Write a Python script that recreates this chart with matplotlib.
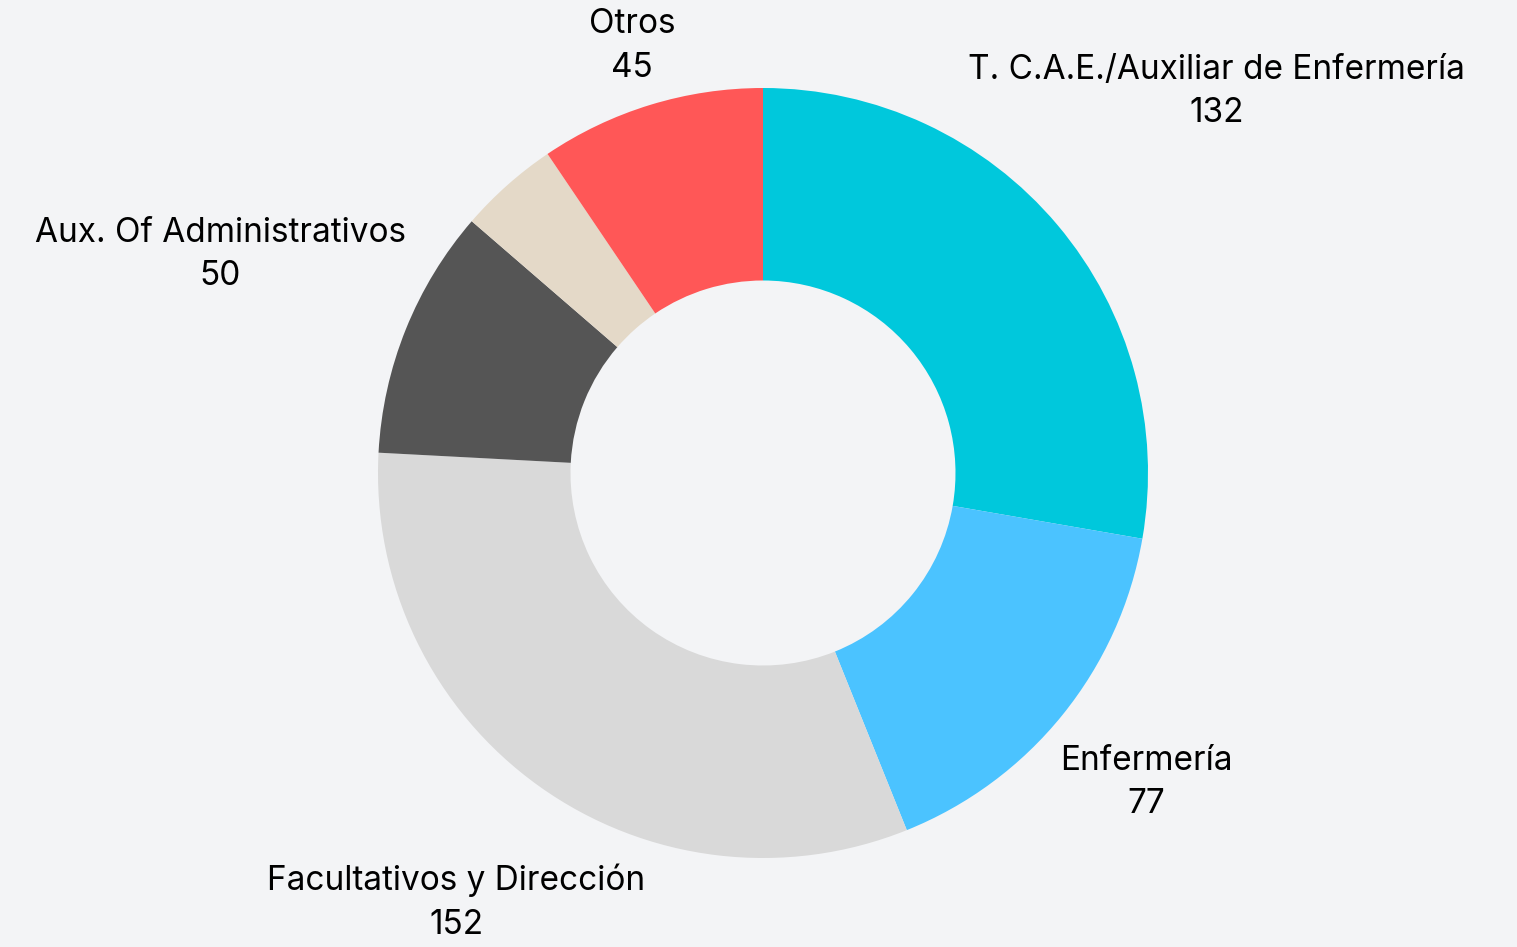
import numpy as np
from matplotlib import pyplot as plt

plt.rcParams['font.family'] = ['Inter', 'DejaVu Sans']

categories = ['T. C.A.E./Auxiliar de Enfermería', 'Enfermería', 'Facultativos y Dirección',
              'Aux. Of Administrativos', '', 'Otros']
values = [132, 77, 152, 50, 20, 45]
colors = ['#00C8DC', '#4BC3FF', '#D9D9D9', '#555555', '#E4D9C8', '#FF5757']
# radial distance of each label (in pie radii), layout only
label_dist = [1.54, 1.28, 1.37, 1.52, 1.3, 1.16]

BG = '#F3F4F6'

fig = plt.figure(figsize=(15.17, 9.47), dpi=100)
fig.patch.set_facecolor(BG)
ax = fig.add_axes([0, 0, 1, 1])
ax.set_facecolor(BG)

wedges, _ = ax.pie(values, colors=colors, startangle=90, counterclock=False,
                   wedgeprops=dict(width=0.5, linewidth=0))

total = sum(values)
cum = 0
for name, v, d in zip(categories, values, label_dist):
    mid = 90 - (cum + v / 2) / total * 360
    cum += v
    if not name:
        continue
    x = d * np.cos(np.radians(mid))
    y = d * np.sin(np.radians(mid))
    ax.text(x, y, name + '\n' + str(v), ha='center', va='center',
            fontsize=24, color='#000000', linespacing=1.45)

# centre at (763, 473) px, radius 385 px
ax.set_xlim(-763 / 385, (1517 - 763) / 385)
ax.set_ylim((473 - 947) / 385, 473 / 385)
ax.set_aspect('auto')
ax.axis('off')

plt.savefig('out.png', dpi=100, facecolor=BG)
